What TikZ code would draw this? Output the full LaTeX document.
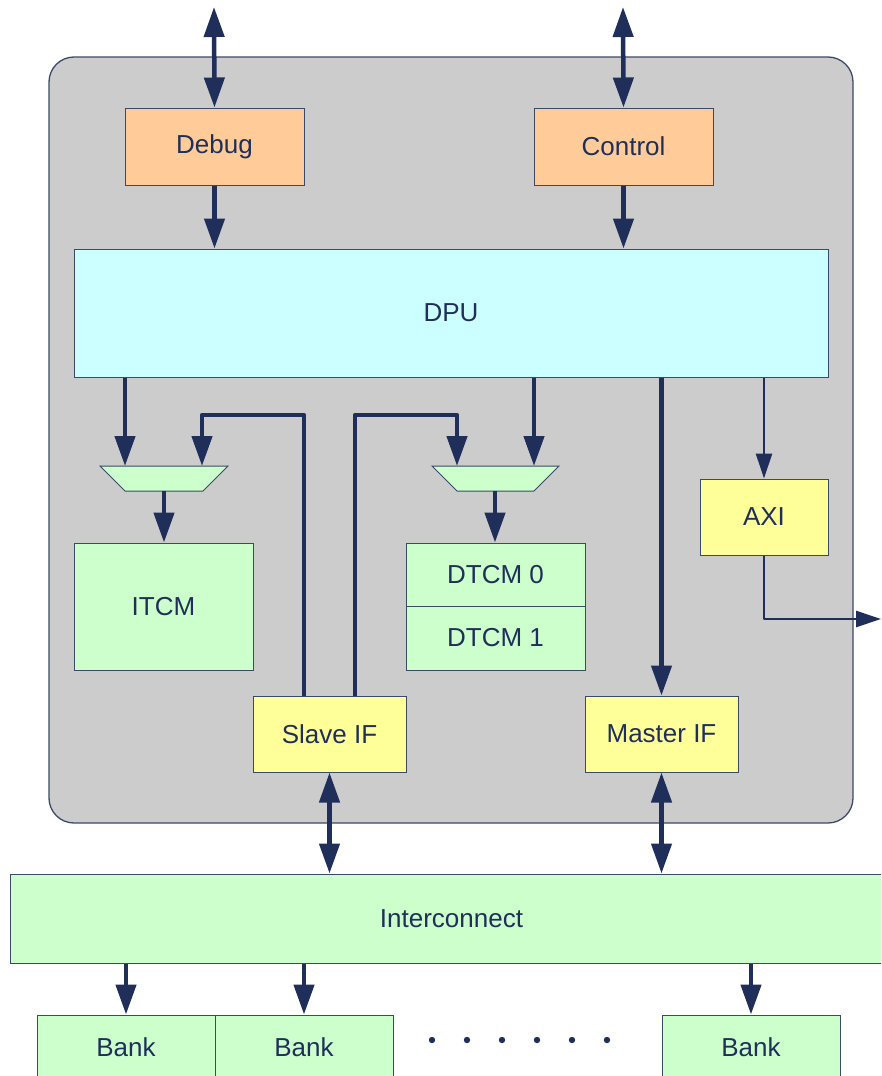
\documentclass[tikz,border=0pt]{standalone}
\usepackage{fontspec}
\setmainfont{Liberation Sans}
\usetikzlibrary{arrows.meta,calc}
\definecolor{chipgrey}{HTML}{CCCCCC}
\definecolor{peach}{HTML}{FFCC99}
\definecolor{pcyan}{HTML}{CCFFFF}
\definecolor{pgreen}{HTML}{CCFFCC}
\definecolor{pyellow}{HTML}{FFFF99}
\definecolor{navy}{HTML}{1F2F5A}
\definecolor{edge}{HTML}{3A4A68}
\tikzset{
  lbl/.style={font=\fontsize{26}{30}\selectfont, text=navy},
  blk/.style={draw=edge, line width=1pt, inner sep=0pt, lbl},
  bus/.style={draw=navy, line width=4.5pt, line join=round,
    -{Triangle[length=30pt,width=20pt]}},
  dbus/.style={draw=navy, line width=4.5pt,
    {Triangle[length=30pt,width=20pt]}-{Triangle[length=30pt,width=20pt]}},
  wire/.style={draw=navy, line width=4.5pt, line join=round},
  thin/.style={draw=navy, line width=2.6pt, line join=round,
    -{Triangle[length=25pt,width=16pt]}},
  mux/.style={draw=edge, line width=1pt, fill=pgreen},
}
\begin{document}
\begin{tikzpicture}[x=1pt,y=-1pt]
\useasboundingbox (0,0) rectangle (881,1076);
\clip (0,0) rectangle (881,1076);

% chip outline
\node[draw=edge, line width=1.3pt, fill=chipgrey, rounded corners=25pt,
      minimum width=804pt, minimum height=766pt, inner sep=0pt] (chip) at (451,440) {};

% blocks
\node[blk, fill=peach, minimum width=179pt, minimum height=77pt] (debug) at (214.5,146.5) {Debug};
\node[blk, fill=peach, minimum width=179pt, minimum height=77pt] (control) at (623.5,146.5) {Control};
\node[blk, fill=pcyan, minimum width=754pt, minimum height=128pt] (dpu) at (451,313) {DPU};
\node[blk, fill=pgreen, minimum width=179pt, minimum height=127pt] (itcm) at (163.5,606.5) {ITCM};
\node[blk, fill=pgreen, minimum width=179pt, minimum height=63pt] (dtcm0) at (495.5,574.5) {DTCM 0};
\node[blk, fill=pgreen, minimum width=179pt, minimum height=64pt] (dtcm1) at (495.5,638) {DTCM 1};
\node[blk, fill=pyellow, minimum width=128pt, minimum height=76pt] (axi) at (764,517) {AXI};
\node[blk, fill=pyellow, minimum width=153pt, minimum height=76pt] (slave) at (329.5,734) {Slave IF};
\node[blk, fill=pyellow, minimum width=153pt, minimum height=76pt] (master) at (661.5,734) {Master IF};
\node[blk, fill=pgreen, minimum width=883pt, minimum height=89pt] (ic) at (451.5,918.5) {Interconnect};
\node[blk, fill=pgreen, minimum width=178pt, minimum height=64pt] (bank1) at (126,1047) {Bank};
\node[blk, fill=pgreen, minimum width=178pt, minimum height=64pt] (bank2) at (304,1047) {Bank};
\node[blk, fill=pgreen, minimum width=178pt, minimum height=64pt] (bank3) at (751,1047) {Bank};

% multiplexers
\draw[mux] (100,466) -- (228,466) -- (203,491) -- (125,491) -- cycle;
\draw[mux] (432,466) -- (559,466) -- (534,491) -- (457,491) -- cycle;
\coordinate (m1a) at (125,466);
\coordinate (m1b) at (202,466);
\coordinate (m1o) at (164,491);
\coordinate (m2a) at (457,466);
\coordinate (m2b) at (534,466);
\coordinate (m2o) at (495,491);

% free ends and routing points
\coordinate (dbgext) at (214,7);
\coordinate (ctlext) at (623,7);
\coordinate (axiext) at (881,619);
\coordinate (row) at (0,415);
\coordinate (sl1) at (304,696);
\coordinate (sl2) at (355,696);

% external ports
\draw[dbus] (dbgext) -- (debug.north);
\draw[dbus] (ctlext) -- (control.north);
\draw[bus] (debug.south) -- (debug.south |- dpu.north);
\draw[bus] (control.south) -- (control.south |- dpu.north);

% DPU to the multiplexers
\draw[bus] (m1a |- dpu.south) -- (m1a);
\draw[bus] (m2b |- dpu.south) -- (m2b);

% slave interface paths into the multiplexers
\draw[bus] (sl1) -- (sl1 |- row) -| (m1b);
\draw[bus] (sl2) -- (sl2 |- row) -| (m2a);

% multiplexers to memories
\draw[bus] (m1o) -- (m1o |- itcm.north);
\draw[bus] (m2o) -- (m2o |- dtcm0.north);

% DPU to master interface and AXI
\draw[bus] (master.north |- dpu.south) -- (master.north);
\draw[thin] (axi.north |- dpu.south) -- (axi.north);
\draw[thin] (axi.south) |- (axiext);

% interfaces to interconnect
\draw[dbus] (slave.south) -- (slave.south |- ic.north);
\draw[dbus] (master.south) -- (master.south |- ic.north);

% interconnect to banks
\draw[bus] (bank1.north |- ic.south) -- (bank1.north);
\draw[bus] (bank2.north |- ic.south) -- (bank2.north);
\draw[bus] (bank3.north |- ic.south) -- (bank3.north);

% ellipsis between banks
\foreach \x in {432,467,502,537,572,607}
  \fill[navy] (\x,1040) circle (3.2pt);
\end{tikzpicture}
\end{document}
